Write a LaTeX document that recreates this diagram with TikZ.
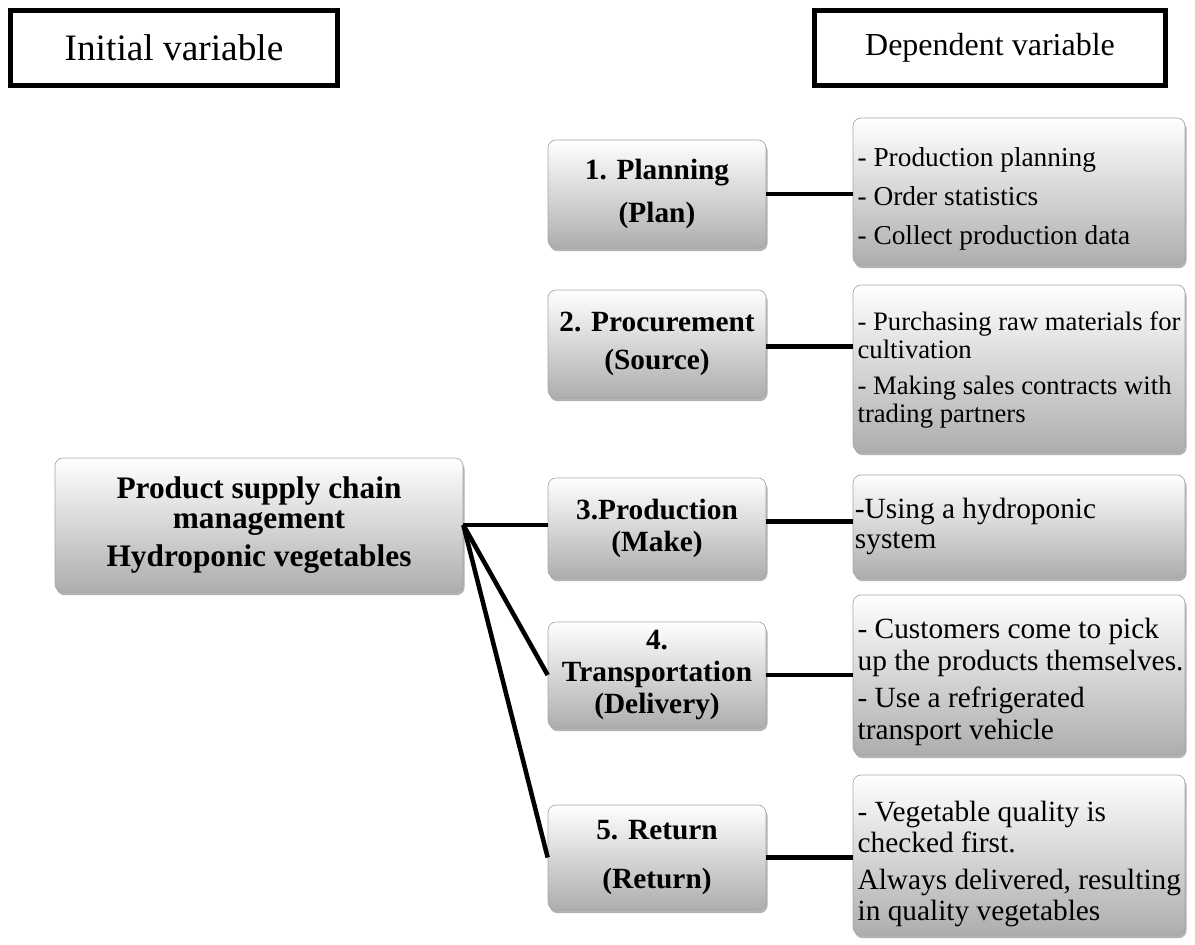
\documentclass[tikz,border=0pt]{standalone}
\usepackage{fontspec}
\setmainfont{Liberation Serif}
\usetikzlibrary{shadows}
\begin{document}
\begin{tikzpicture}[x=0.75pt,y=-0.75pt,
  hdr/.style={draw=black, line width=3.75pt, fill=white, inner sep=0pt, minimum height=56.25pt},
  gbox/.style={rounded corners=6pt, draw=black!35, line width=0.5pt,
    top color=white, bottom color=black!32, inner sep=0pt,
    drop shadow={shadow xshift=1.2pt, shadow yshift=-2.4pt, fill=black, opacity=0.3}},
  midbox/.style={gbox, minimum width=163.5pt, align=center, font=\bfseries\fontsize{22}{24}\selectfont},
  rbox/.style={gbox, minimum width=249pt},
  rtext/.style={anchor=west, align=left, inner sep=0pt},
  conn/.style={draw=black, line width=3.4pt}]
\useasboundingbox (0,0) rectangle (1195,945);

% headers
\node[hdr, minimum width=245.25pt] (h1) at (174,48) {\fontsize{28}{30}\selectfont Initial variable};
\node[hdr, minimum width=263.25pt] (h2) at (990,48) {\fontsize{24}{26}\selectfont Dependent variable};

% main box
\node[gbox, minimum width=306pt, minimum height=100.5pt, align=center,
  font=\bfseries\fontsize{23.5}{22.5}\selectfont] (main) at (259,525)
  {Product supply chain\\ management\\[6pt] Hydroponic vegetables};

% middle boxes
\node[midbox, minimum height=81pt] (p1) at (657,194) {\raisebox{-2pt}{1. Planning}\\[10pt] (Plan)};
\node[midbox, minimum height=81pt] (p2) at (657,344) {2. Procurement\\[4pt] (Source)};
\node[midbox, minimum height=75pt] (p3) at (657,528) {3.Production\\ (Make)};
\node[midbox, minimum height=79.5pt] (p4) at (657,675) {4.\\ Transportation\\ (Delivery)};
\node[midbox, minimum height=78.75pt] (p5) at (657,857.5) {5. Return\\[13pt] (Return)};

% right boxes
\node[rbox, minimum height=110.25pt] (r1) at (1019,191.5) {};
\node[rbox, minimum height=125.25pt] (r2) at (1019,368.5) {};
\node[rbox, minimum height=77.25pt] (r3) at (1019,526.5) {};
\node[rbox, minimum height=120pt] (r4) at (1019,675) {};
\node[rbox, minimum height=120pt] (r5) at (1019,855) {};

\node[rtext, font=\fontsize{20.5}{22}\selectfont] (t1) at ([xshift=3.5pt,yshift=-5.5pt]r1.west)
  {- Production planning\\[7pt] - Order statistics\\[7pt] - Collect production data};
\node[rtext, font=\fontsize{20}{21}\selectfont] (t2) at ([xshift=3.5pt,yshift=-1pt]r2.west)
  {- Purchasing raw materials for\\ cultivation\\[6pt] - Making sales contracts with\\ trading partners};
\node[rtext, font=\fontsize{22}{23}\selectfont] (t3) at ([xshift=1.5pt,yshift=0pt]r3.west)
  {-Using a hydroponic\\ system};
\node[rtext, font=\fontsize{22}{24}\selectfont] (t4) at ([xshift=3.5pt,yshift=-5pt]r4.west)
  {- Customers come to pick\\ up the products themselves.\\[4pt] - Use a refrigerated\\ transport vehicle};
\node[rtext, font=\fontsize{22}{23}\selectfont] (t5) at ([xshift=3.5pt,yshift=-6.5pt]r5.west)
  {- Vegetable quality is\\ checked first.\\[5pt] Always delivered, resulting\\ in quality vegetables};

% connectors
\draw[conn] (main.east) -- (main.east -| p3.west);
\draw[conn] (main.east) -- (p4.west);
\draw[conn] (main.east) -- (p5.west);
\draw[conn] (p1.east) -- (p1.east -| r1.west);
\draw[conn] ([yshift=-2pt]p2.east) -- ([yshift=-2pt]p2.east -| r2.west);
\draw[conn] ([yshift=5pt]p3.east) -- ([yshift=5pt]p3.east -| r3.west);
\draw[conn] (p4.east) -- (p4.east -| r4.west);
\draw[conn] (p5.east) -- (p5.east -| r5.west);
\end{tikzpicture}
\end{document}
